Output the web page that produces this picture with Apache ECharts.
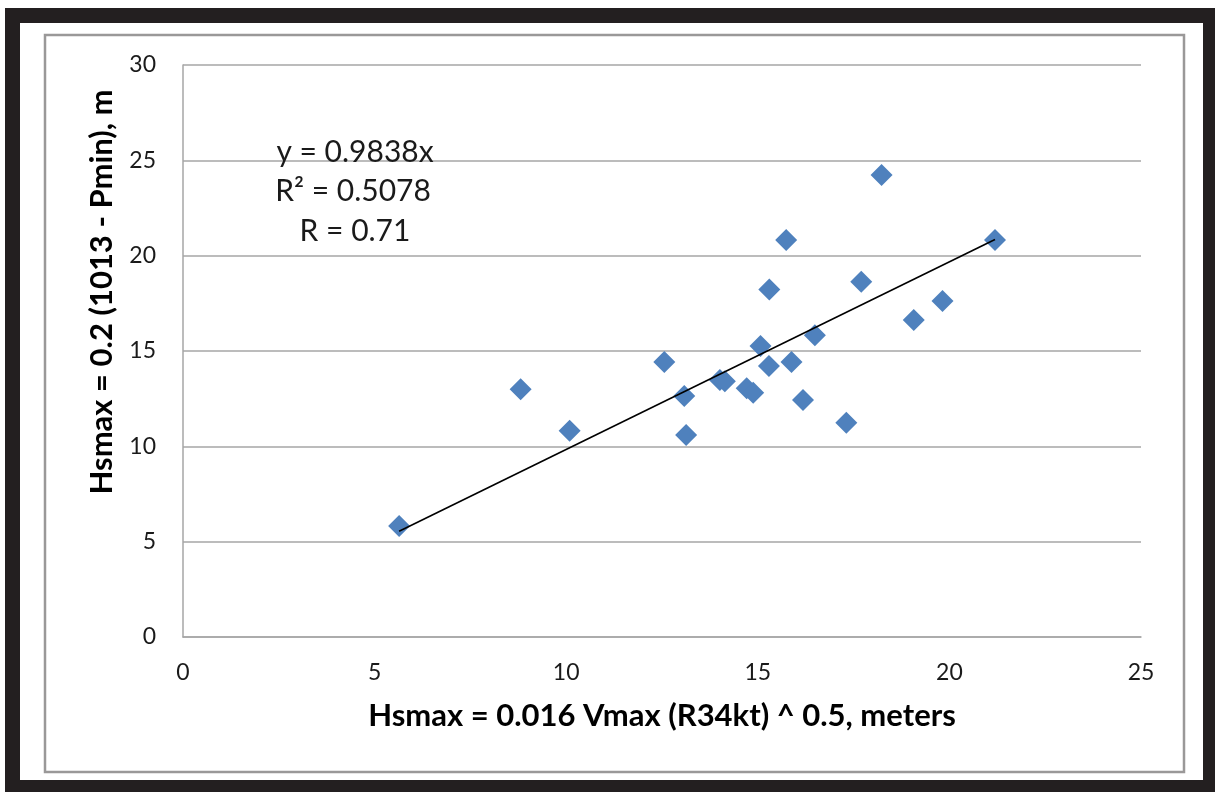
<!DOCTYPE html>
<html>
<head>
<meta charset="utf-8">
<script src="https://cdn.jsdelivr.net/npm/echarts@6/dist/echarts.min.js"></script>
<style>
html,body{margin:0;padding:0;background:#fff;}
#chart{width:1215px;height:792px;}
</style>
</head>
<body>
<div id="chart"></div>
<script>
// Data
const xValues = [5.64, 8.81, 10.09, 12.56, 13.08, 13.13, 14.01, 14.14, 14.71, 14.88, 15.07, 15.29, 15.30, 15.74, 15.88, 16.18, 16.49, 17.31, 17.70, 18.23, 19.07, 19.82, 21.19];
const yValues = [5.82, 13.00, 10.82, 14.42, 12.64, 10.59, 13.48, 13.42, 13.04, 12.81, 15.26, 14.21, 18.23, 20.82, 14.42, 12.43, 15.82, 11.24, 18.63, 24.23, 16.62, 17.62, 20.82];
const trendSlope = 0.9838;
const xTicks = [0, 5, 10, 15, 20, 25];
const yTicks = [0, 5, 10, 15, 20, 25, 30];
const equationLines = ['y = 0.9838x', 'R² = 0.5078', 'R = 0.71'];
const xTitle = 'Hsmax = 0.016 Vmax (R34kt) ^ 0.5, meters';
const yTitle = 'Hsmax = 0.2 (1013 - Pmin), m';

const points = xValues.map((x, i) => [x, yValues[i]]);
const xMinData = Math.min(...xValues), xMaxData = Math.max(...xValues);
const trend = [[xMinData, trendSlope * xMinData], [xMaxData, trendSlope * xMaxData]];

const FONT = 'Lato';
const chart = echarts.init(document.getElementById('chart'), null, {renderer: 'canvas'});
chart.setOption({
  animation: false,
  backgroundColor: '#ffffff',
  grid: {left: 183, right: 74, top: 65, bottom: 155, containLabel: false},
  xAxis: {
    type: 'value', min: xTicks[0], max: xTicks[xTicks.length - 1], interval: 5,
    axisLine: {show: true, lineStyle: {color: '#a6a6a6', width: 1.5}},
    axisTick: {show: false},
    splitLine: {show: false},
    axisLabel: {color: '#1a1a1a', fontSize: 23, fontFamily: FONT, margin: 24}
  },
  yAxis: {
    type: 'value', min: yTicks[0], max: yTicks[yTicks.length - 1], interval: 5,
    axisLine: {show: true, lineStyle: {color: '#a6a6a6', width: 1.5}},
    axisTick: {show: false},
    splitLine: {show: true, lineStyle: {color: '#a6a6a6', width: 1.5}},
    axisLabel: {color: '#1a1a1a', fontSize: 23, fontFamily: FONT, margin: 27}
  },
  graphic: [
    {type: 'rect', z: -10, shape: {x: 5, y: 8, width: 1210, height: 784}, style: {fill: '#231f20'}},
    {type: 'rect', z: -9, shape: {x: 20, y: 23, width: 1183, height: 757}, style: {fill: '#ffffff'}},
    {type: 'rect', z: -8, shape: {x: 45, y: 35, width: 1139, height: 737}, style: {fill: '#ffffff', stroke: '#9a9898', lineWidth: 2.5}},
    {type: 'text', z: 10, style: {text: equationLines[0], x: 355, y: 152, align: 'center', verticalAlign: 'middle', font: '30px ' + FONT, fill: '#1a1a1a'}},
    {type: 'text', z: 10, style: {text: equationLines[1], x: 353, y: 191, align: 'center', verticalAlign: 'middle', font: '30px ' + FONT, fill: '#1a1a1a'}},
    {type: 'text', z: 10, style: {text: equationLines[2], x: 355, y: 231, align: 'center', verticalAlign: 'middle', font: '30px ' + FONT, fill: '#1a1a1a'}},
    {type: 'text', z: 10, style: {text: xTitle, x: 662, y: 716, align: 'center', verticalAlign: 'middle', font: 'bold 31px ' + FONT, fill: '#000'}},
    {type: 'text', z: 10, x: 102, y: 292, rotation: Math.PI / 2, style: {text: yTitle, x: 0, y: 0, align: 'center', verticalAlign: 'middle', font: 'bold 31px ' + FONT, fill: '#000'}}
  ],
  series: [
    {
      type: 'scatter', data: points, symbol: 'diamond', symbolSize: [22, 22],
      itemStyle: {color: '#4f81bd', opacity: 1}, z: 3
    },
    {
      type: 'line', data: trend, showSymbol: false, symbol: 'none',
      lineStyle: {color: '#000', width: 1.6}, z: 4
    }
  ]
});
</script>
</body>
</html>
